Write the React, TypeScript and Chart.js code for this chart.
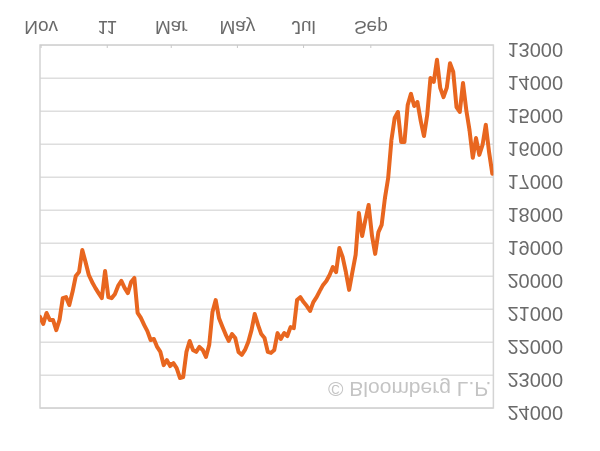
import React, { useEffect, useRef } from "react";
import { Chart, registerables } from "chart.js";

Chart.register(...registerables);

// Sample spacing of the series, in calendar days (day 0 = 31 Oct 2010)
const SAMPLE_STEP_DAYS = 3;

// Index level, one sample every 3 days from 31 Oct 2010
const indexValues: number[] = [
  21240, 21450, 21120, 21330, 21330, 21640, 21330, 20670, 20640, 20880,
  20480, 20000, 19880, 19210, 19580, 19970, 20180, 20360, 20520, 20670,
  19850, 20640, 20670, 20550, 20300, 20150, 20360, 20520, 20180, 20060,
  21120, 21270, 21480, 21670, 21940, 21910, 22150, 22300, 22700, 22550,
  22730, 22640, 22790, 23090, 23060, 22300, 21970, 22240, 22300, 22150,
  22240, 22450, 22090, 21090, 20730, 21270, 21520, 21760, 21970, 21760,
  21880, 22300, 22390, 22240, 22000, 21640, 21150, 21480, 21760, 21880,
  22300, 22330, 22240, 21730, 21910, 21730, 21820, 21550, 21580, 20730,
  20640, 20790, 20910, 21060, 20790, 20640, 20450, 20270, 20150, 19970,
  19730, 19880, 19150, 19420, 19880, 20420, 19880, 19360, 18090, 18790,
  18300, 17850, 18760, 19330, 18670, 18450, 17640, 17030, 15880, 15210,
  15030, 15940, 15940, 14820, 14480, 14850, 14730, 15300, 15760, 15120,
  14000, 14120, 13450, 14300, 14580, 14300, 13550, 13820, 14880, 15030,
  14150, 14970, 15580, 16420, 15820, 16330, 16030, 15420, 16240, 16900,
];

const sampleDays: number[] = indexValues.map((_, i) => i * SAMPLE_STEP_DAYS);

// X axis month ticks (days since 31 Oct 2010) and their labels
const monthTickDays: number[] = [1, 62, 121, 182, 243, 305];
const monthTickLabels: string[] = ["Nov", "11", "Mar", "May", "Jul", "Sep"];

// Y axis range
const yMin = 13000;
const yMax = 24000;
const yStep = 1000;

const xMaxDay = 418;

const FONT = "'Liberation Sans', Arial, Helvetica, sans-serif";

const framePlugin = {
  id: "frame",
  beforeDatasetsDraw(chart: any) {
    const { ctx, chartArea } = chart;
    ctx.save();
    ctx.strokeStyle = "#d4d4d4";
    ctx.lineWidth = 1.5;
    ctx.strokeRect(chartArea.left, chartArea.top, chartArea.right - chartArea.left, chartArea.bottom - chartArea.top);
    // small month ticks inside the bottom edge
    const xs = chart.scales.x;
    ctx.strokeStyle = "#c8c8c8";
    ctx.lineWidth = 1;
    monthTickDays.forEach((d) => {
      const px = xs.getPixelForValue(d);
      ctx.beginPath();
      ctx.moveTo(px, chartArea.bottom);
      ctx.lineTo(px, chartArea.bottom - 3);
      ctx.stroke();
    });
    ctx.restore();
  },
};

const watermarkPlugin = {
  id: "watermark",
  afterDatasetsDraw(chart: any) {
    const { ctx, chartArea } = chart;
    ctx.save();
    ctx.font = `21px ${FONT}`;
    ctx.fillStyle = "#c4c4c4";
    ctx.textAlign = "right";
    ctx.textBaseline = "middle";
    ctx.fillText("© Bloomberg L.P.", chartArea.right - 2, chartArea.top + 20);
    ctx.restore();
  },
};

export default function App() {
  const canvasRef = useRef<HTMLCanvasElement | null>(null);

  useEffect(() => {
    document.body.style.margin = "0";
    const canvas = canvasRef.current;
    if (!canvas) return;
    const chart = new Chart(canvas, {
      type: "line",
      data: {
        datasets: [
          {
            data: sampleDays.map((d, i) => ({ x: d, y: indexValues[i] })),
            borderColor: "#e8661f",
            borderWidth: 4,
            pointRadius: 0,
            tension: 0,
            borderJoinStyle: "round",
            borderCapStyle: "round",
            fill: false,
          },
        ],
      },
      options: {
        animation: false,
        responsive: false,
        devicePixelRatio: 1,
        layout: { padding: { left: 40, top: 43, right: 23, bottom: 15 } },
        plugins: {
          legend: { display: false },
          tooltip: { enabled: false },
        },
        scales: {
          x: {
            type: "linear",
            min: 0,
            max: xMaxDay,
            grid: { display: false, drawTicks: false },
            border: { display: false },
            afterBuildTicks: (scale: any) => {
              scale.ticks = monthTickDays.map((v) => ({ value: v }));
            },
            afterFit: (scale: any) => {
              scale.height = 30;
            },
            ticks: {
              autoSkip: false,
              maxRotation: 0,
              padding: 7,
              color: "#6a6a6a",
              font: { size: 19, family: FONT },
              callback: (value: any) => {
                const idx = monthTickDays.indexOf(Number(value));
                return idx >= 0 ? monthTickLabels[idx] : "";
              },
            },
          },
          y: {
            position: "right",
            min: yMin,
            max: yMax,
            grid: { color: "#dedede", lineWidth: 1.5, drawTicks: false },
            border: { display: false },
            ticks: {
              stepSize: yStep,
              padding: 14,
              labelOffset: -4,
              color: "#6a6a6a",
              font: { size: 20, family: FONT },
              callback: (value: any) => String(value),
            },
          },
        },
      },
      plugins: [framePlugin, watermarkPlugin],
    } as any);
    return () => chart.destroy();
  }, []);

  return (
    <div
      style={{
        position: "absolute",
        left: 0,
        top: 0,
        width: 600,
        height: 451,
        transform: "scaleY(-1)",
        background: "#ffffff",
      }}
    >
      <canvas ref={canvasRef} width={600} height={451} style={{ display: "block" }} />
    </div>
  );
}
